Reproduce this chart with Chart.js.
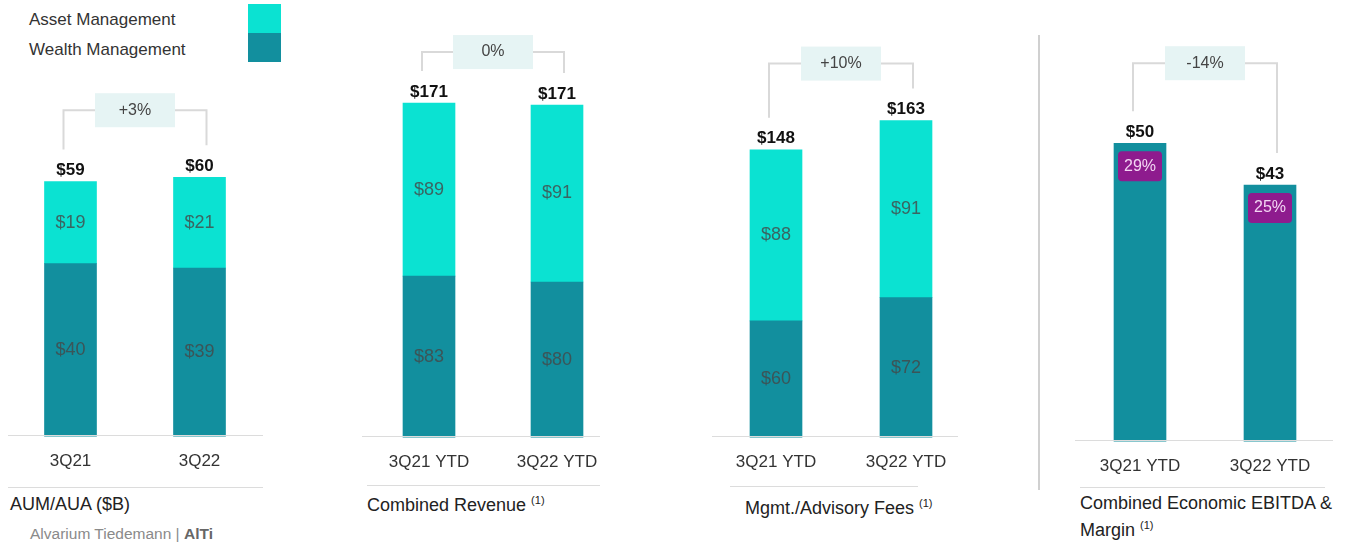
<!DOCTYPE html>
<html>
<head>
<meta charset="utf-8">
<script src="https://cdn.jsdelivr.net/npm/chart.js@4"></script>
<style>
  body { margin: 0; background: #fff; font-family: 'Liberation Sans', Arial, sans-serif; }
  #wrap { position: relative; width: 1350px; height: 543px; overflow: hidden; }
  canvas { position: absolute; top: 0; }
  .txt { position: absolute; color: #222; font-size: 18px; white-space: nowrap; }
  .txt sup { font-size: 11px; vertical-align: 7px; }
  .rule { position: absolute; height: 1px; background: #dcdcdc; }
  .swatch { position: absolute; left: 248px; width: 33px; height: 29px; }
</style>
</head>
<body>
<div id="wrap">
  <div class="txt" style="left:29px;top:10px;font-size:17px;color:#333">Asset Management</div>
  <div class="txt" style="left:29px;top:40px;font-size:17px;color:#333">Wealth Management</div>
  <div class="swatch" style="top:4px;background:#0be2d2"></div>
  <div class="swatch" style="top:33px;background:#128f9e"></div>

  <canvas id="c0" width="258" height="487" style="left:6px"></canvas>
  <canvas id="c1" width="256" height="488" style="left:365px"></canvas>
  <canvas id="c2" width="260" height="488" style="left:711px"></canvas>
  <canvas id="c3" width="260" height="492" style="left:1075px"></canvas>

  <div class="rule" style="left:8px;width:255px;top:435px"></div>
  <div class="rule" style="left:362px;width:238px;top:436px"></div>
  <div class="rule" style="left:712px;width:246px;top:436px"></div>
  <div class="rule" style="left:1075px;width:258px;top:440px"></div>

  <div class="rule" style="left:8px;width:255px;top:487px"></div>
  <div class="rule" style="left:367px;width:233px;top:485px"></div>
  <div class="rule" style="left:730px;width:188px;top:486px"></div>
  <div class="rule" style="left:1080px;width:245px;top:487px"></div>
  <div style="position:absolute;left:1038px;top:35px;width:2px;height:455px;background:#d0d0d0"></div>

  <div class="txt" style="left:10px;top:494px">AUM/AUA ($B)</div>
  <div class="txt" style="left:30px;top:525px;font-size:15.5px;color:#8a8a8a">Alvarium Tiedemann | <b style="color:#666">AlTi</b></div>
  <div class="txt" style="left:367px;top:494px">Combined Revenue <sup>(1)</sup></div>
  <div class="txt" style="left:745px;top:497px">Mgmt./Advisory Fees <sup>(1)</sup></div>
  <div class="txt" style="left:1080px;top:492px;line-height:22px">Combined Economic EBITDA &amp;<br>Margin <sup>(1)</sup></div>
</div>

<script>
// values
const periods = ['3Q21', '3Q22'];
const ytdPeriods = ['3Q21 YTD', '3Q22 YTD'];

const aumWealth = [40, 39];
const aumAsset = [19, 21];
const aumTotal = [59, 60];

const revWealth = [83, 80];
const revAsset = [89, 91];
const revTotal = [171, 171];

const feeWealth = [60, 72];
const feeAsset = [88, 91];
const feeTotal = [148, 163];

const ebitda = [50, 43];
const ebitdaMargin = ['29%', '25%'];

const changes = ['+3%', '0%', '+10%', '-14%'];

const ASSET = '#0be2d2';
const WEALTH = '#128f9e';
const FONT = "'Liberation Sans', Arial, sans-serif";

// draws the $ labels, totals, change bracket and margin badges
const labelPlugin = {
  id: 'labels',
  afterDatasetsDraw(chart, args, opts) {
    const ctx = chart.ctx;
    const sets = chart.data.datasets;
    ctx.save();
    ctx.textAlign = 'center';
    ctx.textBaseline = 'middle';

    if (sets.length > 1) {
      sets.forEach((ds, d) => {
        chart.getDatasetMeta(d).data.forEach((el, i) => {
          ctx.fillStyle = 'rgba(70,70,70,0.8)';
          ctx.font = '18px ' + FONT;
          ctx.fillText('$' + ds.data[i], el.x, (el.y + el.base) / 2);
        });
      });
    }

    const top = chart.getDatasetMeta(sets.length - 1).data;
    top.forEach((el, i) => {
      ctx.fillStyle = '#111';
      ctx.font = 'bold 17px ' + FONT;
      ctx.fillText('$' + opts.totals[i], el.x, el.y - 11);
    });

    // bracket with change box
    const yb = Math.min(top[0].y, top[1].y) - opts.gap;
    const x0 = top[0].x - 7, x1 = top[1].x + 7;
    ctx.strokeStyle = '#d9d9d9';
    ctx.lineWidth = 2;
    ctx.beginPath();
    ctx.moveTo(x0, top[0].y - 32);
    ctx.lineTo(x0, yb);
    ctx.lineTo(x1, yb);
    ctx.lineTo(x1, top[1].y - 32);
    ctx.stroke();
    const cx = (top[0].x + top[1].x) / 2;
    ctx.fillStyle = '#e6f4f4';
    ctx.fillRect(cx - 40, yb - 17, 80, 34);
    ctx.fillStyle = '#444';
    ctx.font = '16px ' + FONT;
    ctx.fillText(opts.change, cx, yb);

    if (opts.badges) {
      top.forEach((el, i) => {
        ctx.fillStyle = '#8e1b8e';
        ctx.beginPath();
        ctx.roundRect(el.x - 22, el.y + 8, 44, 30, 4);
        ctx.fill();
        ctx.fillStyle = '#f3d6f3';
        ctx.font = '16px ' + FONT;
        ctx.fillText(opts.badges[i], el.x, el.y + 23);
      });
    }
    ctx.restore();
  }
};

function makePanel(id, labels, datasets, yMax, totals, change, gap, badges) {
  return new Chart(document.getElementById(id), {
    type: 'bar',
    data: { labels: labels, datasets: datasets },
    options: {
      responsive: false,
      animation: false,
      layout: { padding: 0 },
      plugins: {
        legend: { display: false },
        tooltip: { enabled: false },
        labels: { totals: totals, change: change, gap: gap, badges: badges }
      },
      scales: {
        x: {
          stacked: true,
          grid: { display: false, drawTicks: false },
          border: { display: false },
          ticks: { color: '#333', font: { family: FONT, size: 17 }, padding: 15 }
        },
        y: { stacked: true, display: false, min: 0, max: yMax }
      }
    },
    plugins: [labelPlugin]
  });
}

const bar = { barThickness: 52, borderWidth: 0 };

makePanel('c0', periods, [
  { ...bar, label: 'Wealth Management', data: aumWealth, backgroundColor: WEALTH },
  { ...bar, label: 'Asset Management', data: aumAsset, backgroundColor: ASSET }
], 101, aumTotal, changes[0], 67);

makePanel('c1', ytdPeriods, [
  { ...bar, label: 'Wealth Management', data: revWealth, backgroundColor: WEALTH },
  { ...bar, label: 'Asset Management', data: revAsset, backgroundColor: ASSET }
], 225, revTotal, changes[1], 51);

makePanel('c2', ytdPeriods, [
  { ...bar, label: 'Wealth Management', data: feeWealth, backgroundColor: WEALTH },
  { ...bar, label: 'Asset Management', data: feeAsset, backgroundColor: ASSET }
], 225, feeTotal, changes[2], 57);

makePanel('c3', ytdPeriods, [
  { ...bar, label: 'Economic EBITDA', data: ebitda, backgroundColor: WEALTH }
], 74, ebitda, changes[3], 80, ebitdaMargin);
</script>
</body>
</html>
